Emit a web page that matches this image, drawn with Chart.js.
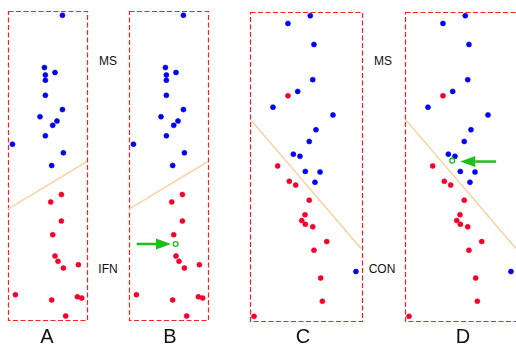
<!DOCTYPE html>
<html>
<head>
<meta charset="utf-8">
<script src="https://cdn.jsdelivr.net/npm/chart.js@4.4.1/dist/chart.umd.min.js"></script>
<style>
  html, body { margin: 0; padding: 0; background: #fff; }
  body { width: 516px; height: 345px; overflow: hidden; position: relative; font-family: "Liberation Sans", Arial, sans-serif; }
  .panel { position: absolute; }
  .lbl { position: absolute; font-size: 12px; color: #111; transform: translate(-50%, -50%); white-space: nowrap; }
  .letter { position: absolute; font-size: 20px; color: #111; transform: translate(-50%, -50%); }
</style>
</head>
<body>
<div class="panel" style="left:2px;top:5px"><canvas id="cA" width="91" height="321"></canvas></div>
<div class="panel" style="left:123px;top:5px"><canvas id="cB" width="91" height="321"></canvas></div>
<div class="panel" style="left:244px;top:6px"><canvas id="cC" width="124" height="321"></canvas></div>
<div class="panel" style="left:399px;top:6px"><canvas id="cD" width="124" height="321"></canvas></div>

<div class="lbl" style="left:108px;top:61px">MS</div>
<div class="lbl" style="left:108px;top:269px">IFN</div>
<div class="lbl" style="left:383px;top:61px">MS</div>
<div class="lbl" style="left:382px;top:269px">CON</div>

<div class="letter" style="left:47px;top:336px">A</div>
<div class="letter" style="left:170px;top:336px">B</div>
<div class="letter" style="left:303px;top:336px">C</div>
<div class="letter" style="left:463px;top:336px">D</div>

<script>
// Дані панелей A/B (x, y у відсотках від рамки)
const msAB = [
  [68.9, 98.6], [46.1, 81.7], [59.5, 80.1], [47.3, 79.3], [47.3, 77.6], [47.3, 72.7],
  [68.9, 68.1], [40.5, 65.8], [62.0, 64.4], [56.6, 63.0], [47.3, 59.6], [5.6, 56.9],
  [70.1, 54.1], [55.3, 50.0]
];
const ifnAB = [
  [67.6, 40.6], [54.1, 38.2], [67.6, 32.0], [56.6, 27.6], [59.5, 20.7], [63.3, 19.0],
  [70.1, 16.8], [89.1, 17.9], [9.4, 8.2], [55.3, 6.5], [87.8, 7.5], [93.3, 7.1], [73.0, 1.3]
];
const lineAB = [[0, 35.9], [100, 51.3]];

// Дані панелей C/D
const msCD = [
  [53.8, 98.8], [33.9, 96.3], [57.1, 89.5], [56.0, 78.1], [42.6, 74.3], [20.5, 69.2],
  [74.1, 66.7], [58.9, 61.9], [52.9, 58.1], [38.7, 54.0], [44.6, 53.3], [49.4, 48.4],
  [62.5, 48.2], [58.0, 44.9], [94.6, 16.0]
];
const conCD = [
  [33.9, 72.9], [24.7, 50.2], [35.1, 45.2], [40.8, 44.0], [52.9, 39.1], [49.1, 34.4],
  [46.2, 32.5], [49.4, 31.3], [56.0, 30.5], [68.5, 25.7], [57.1, 22.9], [63.1, 13.9],
  [64.6, 6.4], [3.6, 1.5]
];
const lineCD = [[1, 65.0], [99, 23.5]];

// Нова точка і стрілка до неї
const newB = [[59.1, 24.6]];
const arrowB = { from: [9.7, 24.6], to: [53.2, 24.6] };
const newD = [[42.2, 51.9]];
const arrowD = { from: [81.3, 51.6], to: [49.4, 51.6] };

const BLUE = '#0000f5';
const RED = '#f5002a';
const GREEN = '#1cbf1c';

const toXY = arr => arr.map(p => ({ x: p[0], y: p[1] }));

// Рамка пунктиром + стрілка
const framePlugin = {
  id: 'frame',
  beforeDatasetsDraw(chart) {
    const a = chart.chartArea, ctx = chart.ctx;
    ctx.save();
    ctx.strokeStyle = '#ff1f1f';
    ctx.lineWidth = 1.2;
    ctx.setLineDash([5, 2.5]);
    const l = Math.round(a.left) + 0.5, t = Math.round(a.top) + 0.5;
    const r = Math.round(a.right) + 0.5, b = Math.round(a.bottom) + 0.5;
    ctx.strokeRect(l, t, r - l, b - t);
    ctx.restore();
  },
  afterDatasetsDraw(chart, args, opts) {
    const arr = opts.arrow;
    if (!arr) return;
    const sx = chart.scales.x, sy = chart.scales.y, ctx = chart.ctx;
    const x0 = sx.getPixelForValue(arr.from[0]), y0 = sy.getPixelForValue(arr.from[1]);
    const x1 = sx.getPixelForValue(arr.to[0]), y1 = sy.getPixelForValue(arr.to[1]);
    const ang = Math.atan2(y1 - y0, x1 - x0);
    const hl = 15, hw = 5.5;
    const bx = x1 - hl * Math.cos(ang), by = y1 - hl * Math.sin(ang);
    ctx.save();
    ctx.strokeStyle = GREEN;
    ctx.fillStyle = GREEN;
    ctx.lineWidth = 2.5;
    ctx.beginPath();
    ctx.moveTo(x0, y0);
    ctx.lineTo(bx, by);
    ctx.stroke();
    ctx.beginPath();
    ctx.moveTo(x1, y1);
    ctx.lineTo(bx + hw * Math.sin(ang), by - hw * Math.cos(ang));
    ctx.lineTo(bx - hw * Math.sin(ang), by + hw * Math.cos(ang));
    ctx.closePath();
    ctx.fill();
    ctx.restore();
  }
};

function makePanel(id, blue, red, line, extra, arrow) {
  const datasets = [
    { type: 'line', data: toXY(line), borderColor: '#f7d6a8', borderWidth: 1.6, pointRadius: 0, order: 3 },
    { data: toXY(blue), backgroundColor: BLUE, borderColor: BLUE, pointRadius: 2.5, borderWidth: 0.6, order: 1 },
    { data: toXY(red), backgroundColor: RED, borderColor: RED, pointRadius: 2.5, borderWidth: 0.6, order: 1 }
  ];
  if (extra) {
    datasets.push({ data: toXY(extra), backgroundColor: '#fff', borderColor: GREEN, pointRadius: 2.4, borderWidth: 1.3, order: 0 });
  }
  return new Chart(document.getElementById(id), {
    type: 'scatter',
    data: { datasets },
    options: {
      responsive: false,
      animation: false,
      events: [],
      layout: { padding: 6 },
      clip: false,
      scales: {
        x: { type: 'linear', min: 0, max: 100, display: false },
        y: { type: 'linear', min: 0, max: 100, display: false }
      },
      plugins: { legend: { display: false }, tooltip: { enabled: false }, frame: { arrow: arrow } }
    },
    plugins: [framePlugin]
  });
}

makePanel('cA', msAB, ifnAB, lineAB, null, null);
makePanel('cB', msAB, ifnAB, lineAB, newB, arrowB);
makePanel('cC', msCD, conCD, lineCD, null, null);
makePanel('cD', msCD, conCD, lineCD, newD, arrowD);
</script>
</body>
</html>
